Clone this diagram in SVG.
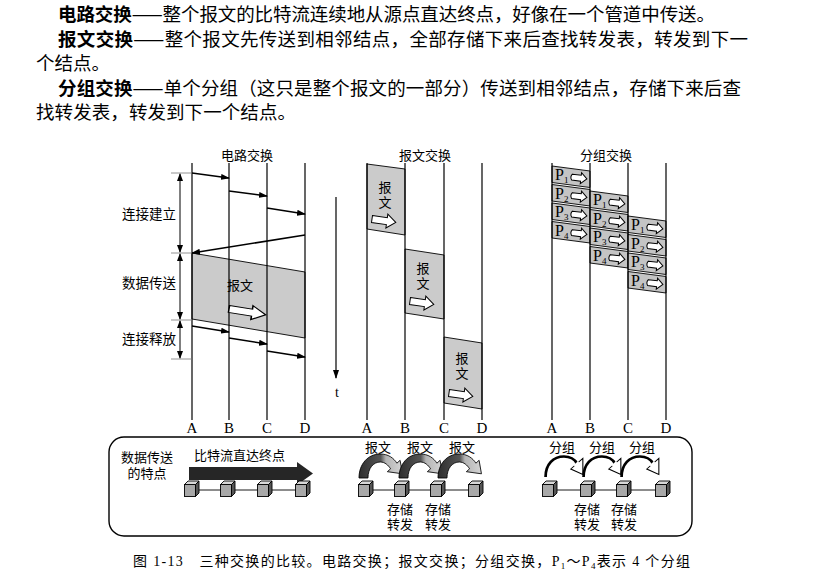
<svg xmlns="http://www.w3.org/2000/svg" xmlns:xlink="http://www.w3.org/1999/xlink" width="829" height="577" viewBox="0 0 829 577">
<style>
text{font-family:"Liberation Serif","Noto Sans CJK SC",serif;fill:#000}
.body{font-size:18.5px;font-family:"Noto Sans CJK SC","Liberation Serif",sans-serif}
.b{font-weight:700}
.lbl{font-size:13.5px}
.sm{font-size:13px}
.ltr{font-size:15px;font-family:"Liberation Serif",serif}
.vl{stroke:#000;stroke-width:1.2;fill:none}
.ar{stroke:#000;stroke-width:1.6;fill:none;marker-end:url(#ah)}
.tick{stroke:#777;stroke-width:0.8;fill:none}
.dim{stroke:#000;stroke-width:1;fill:none;marker-start:url(#ah2);marker-end:url(#ah2)}
.gray{fill:#cbcbcb;stroke:#000;stroke-width:0.9}
.pkt{fill:#c4c4c4;stroke:#000;stroke-width:0.9}
.warr{fill:#fff;stroke:#000;stroke-width:1}
.ps{font-size:9px;font-family:"Liberation Serif",serif}
.pP{font-size:16px;font-family:"Liberation Serif",serif}
</style>
<defs>
<marker id="ah" markerWidth="9" markerHeight="6" refX="8" refY="3" orient="auto" markerUnits="userSpaceOnUse"><path d="M0,0 L9,3 L0,6 z" fill="#000"/></marker>
<marker id="ah2" markerWidth="8" markerHeight="6" refX="7" refY="3" orient="auto-start-reverse" markerUnits="userSpaceOnUse"><path d="M0,0 L8,3 L0,6 z" fill="#000"/></marker>
<path id="wa" d="M0,-3.5 L15,-3.5 L15,-7 L24,0 L15,7 L15,3.5 L0,3.5 Z" class="warr"/>
<path id="sa" d="M1,-3 L10,-3 L10,-5.5 L16,0 L10,5.5 L10,3 L1,3 Q-1.2,0 1,-3 Z" class="warr" stroke-width="0.9"/>
<g id="pk"><polygon points="0,0 38,5 38,21.5 0,16.5" class="pkt"/><use xlink:href="#sa" transform="translate(19,11) rotate(7)"/></g>
<g id="cube"><rect x="-6.5" y="-5.5" width="11" height="12" fill="#a8a8a8" stroke="#000" stroke-width="0.9"/><polygon points="-6.5,-5.5 -3,-9 8,-9 4.5,-5.5" fill="#d8d8d8" stroke="#000" stroke-width="0.9"/><polygon points="4.5,-5.5 8,-9 8,3 4.5,6.5" fill="#555" stroke="#000" stroke-width="0.9"/></g>
<linearGradient id="ag" x1="0" y1="0" x2="1" y2="0"><stop offset="0" stop-color="#2e2e2e"/><stop offset="0.5" stop-color="#555"/><stop offset="0.62" stop-color="#b5b5b5"/><stop offset="1" stop-color="#d5d5d5"/></linearGradient>
<path id="arch" d="M0,0 C0,-14 8,-24 19,-24 C26,-24 31,-20 33.8,-14.8 L36.7,-17.7 L38.8,-4.2 L25.3,-6.3 L28.2,-9.2 C26,-13 23,-16 19,-16 C13,-16 8,-10 8,0 Z" fill="url(#ag)" stroke="#000" stroke-width="0.8"/>
<g id="parch"><path d="M1.5,0 C1.5,-13 9,-20.5 19,-20.5 C25,-20.5 29,-18 31.5,-13.5" fill="none" stroke="#000" stroke-width="2.6"/><polygon points="25.5,-8 37,-18.5 37,-2.5" fill="#fff" stroke="#000" stroke-width="1"/><path d="M29,-11 L33,-15" stroke="#fff" stroke-width="2"/></g>
</defs>
<rect width="829" height="577" fill="#fff"/>

<g id="intro">
<text class="body" x="58" y="21" textLength="657" lengthAdjust="spacing"><tspan class="b">电路交换</tspan>——整个报文的比特流连续地从源点直达终点，好像在一个管道中传送。</text>
<text class="body" x="58" y="46" textLength="690" lengthAdjust="spacing"><tspan class="b">报文交换</tspan>——整个报文先传送到相邻结点，全部存储下来后查找转发表，转发到下一</text>
<text class="body" x="36" y="70">个结点。</text>
<text class="body" x="58" y="95" textLength="683" lengthAdjust="spacing"><tspan class="b">分组交换</tspan>——单个分组（这只是整个报文的一部分）传送到相邻结点，存储下来后查</text>
<text class="body" x="36" y="119" textLength="260" lengthAdjust="spacing">找转发表，转发到下一个结点。</text>
</g>

<g id="circuit">
<text class="sm" x="247" y="160" text-anchor="middle">电路交换</text>
<polygon points="192,253 305,272 305,338 192,319" class="gray"/>
<line class="vl" x1="192" y1="163" x2="192" y2="420"/>
<line class="vl" x1="229" y1="163" x2="229" y2="420"/>
<line class="vl" x1="267" y1="163" x2="267" y2="420"/>
<line class="vl" x1="305" y1="163" x2="305" y2="420"/>
<text class="sm" x="240" y="290" text-anchor="middle">报文</text>
<use xlink:href="#wa" transform="translate(229,309) rotate(9) scale(1.55,1)"/>
<text class="lbl" x="149" y="219" text-anchor="middle">连接建立</text>
<text class="lbl" x="149" y="288" text-anchor="middle">数据传送</text>
<text class="lbl" x="149" y="344" text-anchor="middle">连接释放</text>
<text class="ltr" x="192" y="433" text-anchor="middle">A</text>
<text class="ltr" x="229" y="433" text-anchor="middle">B</text>
<text class="ltr" x="267" y="433" text-anchor="middle">C</text>
<text class="ltr" x="305" y="433" text-anchor="middle">D</text>
</g>

<g id="time">
<line x1="336" y1="197" x2="336" y2="378" stroke="#000" stroke-width="1.2" marker-end="url(#ah)"/>
<text x="337" y="397" text-anchor="middle" font-size="14" font-family="Liberation Serif">t</text>
</g>

<g id="message">
<text class="sm" x="425" y="160" text-anchor="middle">报文交换</text>
<polygon points="367,164 405,169 405,235 367,229" class="gray"/>
<polygon points="405,249 444,255 444,319 405,313" class="gray"/>
<polygon points="444,337 482,343 482,409 444,403" class="gray"/>
<line class="vl" x1="367" y1="163" x2="367" y2="420"/>
<line class="vl" x1="405" y1="163" x2="405" y2="420"/>
<line class="vl" x1="444" y1="163" x2="444" y2="420"/>
<line class="vl" x1="482" y1="163" x2="482" y2="420"/>
<text class="sm" x="385" y="192" text-anchor="middle">报</text>
<text class="sm" x="385" y="207" text-anchor="middle">文</text>
<use xlink:href="#wa" transform="translate(372,219) rotate(8)"/>
<text class="sm" x="423" y="273" text-anchor="middle">报</text>
<text class="sm" x="423" y="288" text-anchor="middle">文</text>
<use xlink:href="#wa" transform="translate(410,301) rotate(8)"/>
<text class="sm" x="462" y="363" text-anchor="middle">报</text>
<text class="sm" x="462" y="378" text-anchor="middle">文</text>
<use xlink:href="#wa" transform="translate(449,393) rotate(8)"/>
<text class="ltr" x="367" y="433" text-anchor="middle">A</text>
<text class="ltr" x="405" y="433" text-anchor="middle">B</text>
<text class="ltr" x="444" y="433" text-anchor="middle">C</text>
<text class="ltr" x="482" y="433" text-anchor="middle">D</text>
</g>

<g id="packet">
<text class="sm" x="606" y="160" text-anchor="middle">分组交换</text>
<use xlink:href="#pk" x="552" y="166"/>
<use xlink:href="#pk" x="552" y="184.5"/>
<use xlink:href="#pk" x="552" y="203"/>
<use xlink:href="#pk" x="552" y="221.5"/>
<use xlink:href="#pk" x="590" y="191"/>
<use xlink:href="#pk" x="590" y="209.5"/>
<use xlink:href="#pk" x="590" y="228"/>
<use xlink:href="#pk" x="590" y="246.5"/>
<use xlink:href="#pk" x="628" y="216"/>
<use xlink:href="#pk" x="628" y="234.5"/>
<use xlink:href="#pk" x="628" y="253"/>
<use xlink:href="#pk" x="628" y="271.5"/>
<line class="vl" x1="552" y1="163" x2="552" y2="420"/>
<line class="vl" x1="590" y1="163" x2="590" y2="420"/>
<line class="vl" x1="628" y1="163" x2="628" y2="420"/>
<line class="vl" x1="666" y1="163" x2="666" y2="420"/>
<text class="pP" x="555" y="180">P<tspan class="ps" dy="3">1</tspan></text>
<text class="pP" x="555" y="198.5">P<tspan class="ps" dy="3">2</tspan></text>
<text class="pP" x="555" y="217">P<tspan class="ps" dy="3">3</tspan></text>
<text class="pP" x="555" y="235.5">P<tspan class="ps" dy="3">4</tspan></text>
<text class="pP" x="593" y="205">P<tspan class="ps" dy="3">1</tspan></text>
<text class="pP" x="593" y="223.5">P<tspan class="ps" dy="3">2</tspan></text>
<text class="pP" x="593" y="242">P<tspan class="ps" dy="3">3</tspan></text>
<text class="pP" x="593" y="260.5">P<tspan class="ps" dy="3">4</tspan></text>
<text class="pP" x="631" y="230">P<tspan class="ps" dy="3">1</tspan></text>
<text class="pP" x="631" y="248.5">P<tspan class="ps" dy="3">2</tspan></text>
<text class="pP" x="631" y="267">P<tspan class="ps" dy="3">3</tspan></text>
<text class="pP" x="631" y="285.5">P<tspan class="ps" dy="3">4</tspan></text>
<text class="ltr" x="552" y="433" text-anchor="middle">A</text>
<text class="ltr" x="590" y="433" text-anchor="middle">B</text>
<text class="ltr" x="628" y="433" text-anchor="middle">C</text>
<text class="ltr" x="666" y="433" text-anchor="middle">D</text>
</g>

<g id="connectors">
<line class="ar" x1="192" y1="173" x2="229" y2="178"/>
<line class="ar" x1="229" y1="191" x2="267" y2="196"/>
<line class="ar" x1="267" y1="208" x2="305" y2="214"/>
<line class="ar" x1="305" y1="235" x2="192" y2="253"/>
<line class="ar" x1="192" y1="326" x2="229" y2="332"/>
<line class="ar" x1="229" y1="338" x2="267" y2="344"/>
<line class="ar" x1="267" y1="351" x2="305" y2="357"/>
<line class="tick" x1="171" y1="173" x2="192" y2="173"/>
<line class="tick" x1="171" y1="253" x2="192" y2="253"/>
<line class="tick" x1="171" y1="320" x2="192" y2="320"/>
<line class="tick" x1="171" y1="359" x2="192" y2="359"/>
<line class="dim" x1="180" y1="174" x2="180" y2="252"/>
<line class="dim" x1="180" y1="254" x2="180" y2="319"/>
<line class="dim" x1="180" y1="321" x2="180" y2="358"/>
</g>

<g id="panel">
<rect x="109" y="437" width="583" height="99" rx="15" fill="none" stroke="#000" stroke-width="1.4"/>
<text class="sm" x="147" y="462" text-anchor="middle">数据传送</text>
<text class="sm" x="147" y="478" text-anchor="middle">的特点</text>
<text class="sm" x="194" y="460">比特流直达终点</text>
<polygon points="189,467 297,467 297,462 313,473.5 297,485 297,480 189,480" fill="#262626"/>
<line x1="191" y1="490" x2="302" y2="490" stroke="#000" stroke-width="0.9"/>
<use xlink:href="#cube" x="191" y="490"/>
<use xlink:href="#cube" x="227" y="490"/>
<use xlink:href="#cube" x="264" y="490"/>
<use xlink:href="#cube" x="302" y="490"/>

<text class="sm" x="378" y="452" text-anchor="middle">报文</text>
<text class="sm" x="420" y="452" text-anchor="middle">报文</text>
<text class="sm" x="462" y="452" text-anchor="middle">报文</text>
<use xlink:href="#arch" transform="translate(359,478) scale(1.12,1.0)"/>
<use xlink:href="#arch" transform="translate(399,478) scale(1.12,1.0)"/>
<use xlink:href="#arch" transform="translate(438,478) scale(1.12,1.0)"/>
<line x1="365" y1="490" x2="475" y2="490" stroke="#000" stroke-width="0.9"/>
<use xlink:href="#cube" x="365" y="490"/>
<use xlink:href="#cube" x="401" y="490"/>
<use xlink:href="#cube" x="437" y="490"/>
<use xlink:href="#cube" x="475" y="490"/>
<text class="sm" x="400" y="514" text-anchor="middle">存储</text>
<text class="sm" x="400" y="529" text-anchor="middle">转发</text>
<text class="sm" x="438" y="514" text-anchor="middle">存储</text>
<text class="sm" x="438" y="529" text-anchor="middle">转发</text>

<text class="sm" x="562" y="452" text-anchor="middle">分组</text>
<text class="sm" x="602" y="452" text-anchor="middle">分组</text>
<text class="sm" x="642" y="452" text-anchor="middle">分组</text>
<use xlink:href="#parch" transform="translate(544,477) scale(1.05,1)"/>
<use xlink:href="#parch" transform="translate(582,477) scale(1.05,1)"/>
<use xlink:href="#parch" transform="translate(620,477) scale(1.05,1)"/>
<line x1="549" y1="490" x2="662" y2="490" stroke="#000" stroke-width="0.9"/>
<use xlink:href="#cube" x="549" y="490"/>
<use xlink:href="#cube" x="587" y="490"/>
<use xlink:href="#cube" x="623" y="490"/>
<use xlink:href="#cube" x="662" y="490"/>
<text class="sm" x="587" y="514" text-anchor="middle">存储</text>
<text class="sm" x="587" y="529" text-anchor="middle">转发</text>
<text class="sm" x="624" y="514" text-anchor="middle">存储</text>
<text class="sm" x="624" y="529" text-anchor="middle">转发</text>
</g>

<g id="caption">
<text x="133" y="566" font-size="14" textLength="557" lengthAdjust="spacing">图 1-13　三种交换的比较。电路交换；报文交换；分组交换，P<tspan font-size="9" dy="3">1</tspan><tspan dy="-3">～P</tspan><tspan font-size="9" dy="3">4</tspan><tspan dy="-3">表示 4 个分组</tspan></text>
</g>
</svg>
